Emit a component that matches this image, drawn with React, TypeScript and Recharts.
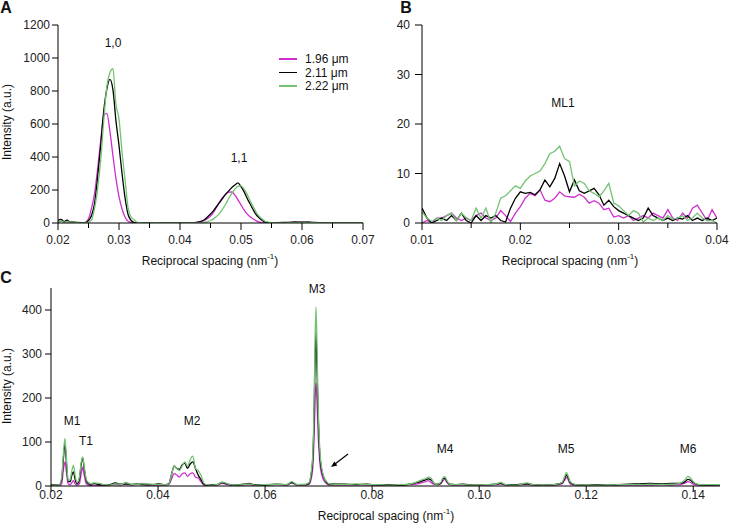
import { LineChart, Line, XAxis, YAxis } from 'recharts';

const FONT = 'Arial, "Liberation Sans", Helvetica, sans-serif';
const PINK = '#cf2fcf';
const BLACK = '#000000';
const GREEN = '#72c272';

// ---- Panel A: 1,0 and 1,1 reflections
const aX = [
  0.02, 0.0205, 0.021, 0.0215, 0.022, 0.0225, 0.023, 0.024, 0.0245, 0.025,
  0.0255, 0.026, 0.0265, 0.027, 0.0275, 0.028, 0.0285, 0.029, 0.0295, 0.03,
  0.0305, 0.031, 0.0315, 0.032, 0.0325, 0.033, 0.034, 0.036, 0.038, 0.04,
  0.042, 0.043, 0.044, 0.045, 0.0455, 0.046, 0.0465, 0.047, 0.0475, 0.048,
  0.0485, 0.049, 0.0495, 0.05, 0.0505, 0.051, 0.0515, 0.052, 0.0525, 0.053,
  0.0535, 0.054, 0.055, 0.056, 0.058, 0.059, 0.06, 0.061, 0.062, 0.064,
  0.067, 0.07,
];
const aPink = [
  4, 10, 5, 8, 3, 2, 2, 0, 4, 25,
  90, 180, 330, 500, 650, 665, 560, 410, 270, 160,
  85, 35, 10, 3, 0, 0, 2, 0, 2, 0,
  2, 5, 15, 42, 65, 97, 128, 155, 175, 187,
  188, 170, 140, 110, 80, 55, 38, 24, 13, 6,
  2, 0, 0, 0, 3, 5, 6, 4, 2, 0,
  0, 0,
];
const aBlack = [
  15, 22, 8, 18, 5, 8, 3, 2, 2, 15,
  45, 120, 280, 470, 680, 810, 870, 810, 620, 470,
  300, 150, 50, 15, 3, 0, 1, 2, 0, 2,
  0, 5, 20, 55, 75, 100, 125, 150, 175, 195,
  215, 230, 243, 220, 190, 150, 115, 80, 50, 30,
  15, 5, 0, 2, 4, 6, 5, 6, 3, 1,
  0, 0,
];
const aGreen = [
  8, 12, 5, 10, 4, 6, 2, 0, 0, 5,
  20, 90, 210, 380, 620, 826, 910, 935, 720, 630,
  430, 260, 90, 35, 20, 3, 0, 2, 0, 1,
  0, 1, 3, 15, 25, 40, 60, 85, 115, 150,
  180, 205, 222, 225, 205, 175, 135, 100, 65, 40,
  22, 10, 2, 0, 2, 3, 4, 3, 2, 0,
  0, 0,
];
const aXTicks = [0.02, 0.025, 0.03, 0.035, 0.04, 0.045, 0.05, 0.055, 0.06, 0.065, 0.07];
const aXLabels = [0.02, 0.03, 0.04, 0.05, 0.06, 0.07];
const aYTicks = [0, 200, 400, 600, 800, 1000, 1200];

// ---- Panel B: ML1
const bX = [
  0.01, 0.0105, 0.011, 0.0115, 0.012, 0.0125, 0.013, 0.0135, 0.014, 0.0145,
  0.015, 0.0155, 0.016, 0.0165, 0.017, 0.0175, 0.018, 0.0185, 0.019, 0.0195,
  0.02, 0.0205, 0.021, 0.0215, 0.022, 0.0225, 0.023, 0.0235, 0.024, 0.0245,
  0.025, 0.0255, 0.026, 0.0265, 0.027, 0.0275, 0.028, 0.0285, 0.029, 0.0295,
  0.03, 0.0305, 0.031, 0.0315, 0.032, 0.0325, 0.033, 0.0335, 0.034, 0.0345,
  0.035, 0.0355, 0.036, 0.0365, 0.037, 0.0375, 0.038, 0.0385, 0.039, 0.0395,
  0.04,
];
const bPink = [
  0, 0.5, 0, 1, 1, 1.5, 2, 1, 0.5, 1,
  0.5, 1.5, 2, 1, 0.5, 1, 2.5, 1.5, 0.3, 2,
  3.3, 5, 6, 5.5, 6.7, 4.6, 4.3, 5, 6.3, 5.5,
  5.3, 5.2, 5.8, 5.2, 4, 4.5, 4, 2.7, 3, 1.2,
  1.5, 1, 1.5, 0.5, 1, 1.5, 1, 2, 1.5, 1,
  2.7, 1, 0.5, 2, 1, 3, 3.6, 2, 0.5, 2.7,
  1,
];
const bBlack = [
  3, 1, 0, 0.5, 1, 0.5, 1.5, 0.5, 2, 0.5,
  0, 1.5, 0.5, 1.5, 1, 1.5, 0.5, 0.2, 3, 5,
  6.3, 6, 6.2, 5.7, 6.7, 8.7, 7.3, 9, 12, 9.5,
  6.3, 8.7, 6.5, 6, 6.5, 7, 5.7, 3.6, 4.6, 3.3,
  2.5, 2, 1.5, 1, 0.5, 1, 3, 1.5, 1, 0.5,
  1, 0.5, 1, 0.8, 1.5, 0.5, 1, 0.5, 1, 0.5,
  1,
];
const bGreen = [
  2.3, 1, 0.3, 1, 0.5, 1.5, 2, 0.5, 2, 1,
  0.5, 3, 1, 3, 0, 2, 5, 5.5, 6.5, 7.5,
  7, 8.5, 9.5, 10, 10.5, 12, 14, 14.5, 15.5, 13,
  12.4, 7.5, 8.5, 8, 6.5, 6, 5.3, 6.5, 8, 4,
  3.5, 2.5, 1.5, 2.5, 2, 0.2, 1, 0.5, 1, 0.5,
  1.5, 0.8, 1, 1.5, 0.5, 1, 2, 1, 0.5, 0.5,
  0,
];
const bXTicks = [0.01, 0.015, 0.02, 0.025, 0.03, 0.035, 0.04];
const bXLabels = [0.01, 0.02, 0.03, 0.04];
const bYTicks = [0, 10, 20, 30, 40];

// ---- Panel C: meridional reflections
const cX = [
  0.02, 0.0215, 0.022, 0.0223, 0.0226, 0.0229, 0.0232, 0.0236, 0.0239, 0.0242,
  0.0245, 0.0249, 0.0253, 0.0256, 0.0259, 0.0262, 0.0266, 0.027, 0.0275, 0.028,
  0.029, 0.03, 0.031, 0.032, 0.033, 0.034, 0.035, 0.036, 0.037, 0.038,
  0.039, 0.04, 0.041, 0.042, 0.0425, 0.043, 0.0435, 0.044, 0.0445, 0.045,
  0.0455, 0.046, 0.0465, 0.047, 0.0475, 0.048, 0.0485, 0.049, 0.05, 0.051,
  0.052, 0.053, 0.054, 0.056, 0.057, 0.058, 0.06, 0.062, 0.064, 0.065,
  0.066, 0.0675, 0.0682, 0.0686, 0.0689, 0.0691, 0.0693, 0.0695, 0.0697, 0.0699,
  0.0701, 0.0703, 0.0706, 0.071, 0.0715, 0.072, 0.073, 0.075, 0.077, 0.079,
  0.081, 0.083, 0.085, 0.087, 0.0885, 0.0895, 0.09, 0.0905, 0.091, 0.0915,
  0.092, 0.0928, 0.0933, 0.0936, 0.094, 0.0945, 0.0955, 0.097, 0.099, 0.101,
  0.103, 0.104, 0.105, 0.107, 0.109, 0.11, 0.112, 0.114, 0.1155, 0.116,
  0.1163, 0.1166, 0.117, 0.118, 0.12, 0.122, 0.124, 0.126, 0.128, 0.13,
  0.132, 0.134, 0.136, 0.1375, 0.1385, 0.139, 0.1395, 0.14, 0.141, 0.1425,
  0.145,
];
const cPink = [
  2, 1, 5, 35, 55, 30, 5, 3, 8, 12,
  5, 2, 5, 25, 42, 25, 5, 2, 1, 2,
  1, 1, 2, 3, 2, 4, 2, 3, 6, 4,
  2, 1, 2, 3, 15, 28, 25, 20, 28, 30,
  22, 28, 30, 20, 18, 10, 3, 1, 1, 2,
  6, 3, 1, 2, 3, 1, 2, 3, 2, 7,
  2, 2, 4, 15, 40, 90, 170, 235, 190, 120,
  75, 45, 25, 12, 5, 2, 2, 2, 3, 2,
  2, 1, 2, 3, 5, 8, 10, 12, 8, 4,
  3, 5, 13, 15, 8, 3, 2, 2, 1, 2,
  3, 5, 2, 2, 4, 2, 1, 2, 5, 14,
  20, 15, 5, 2, 1, 2, 1, 2, 2, 2,
  2, 3, 2, 3, 7, 10, 8, 4, 2, 1,
  2,
];
const cBlack = [
  3, 2, 15, 60, 95, 50, 10, 10, 25, 32,
  15, 5, 15, 45, 65, 40, 12, 5, 3, 6,
  3, 2, 3, 7, 4, 5, 3, 5, 3, 2,
  3, 5, 3, 5, 25, 45, 40, 38, 48, 52,
  40, 50, 55, 40, 25, 15, 5, 2, 3, 3,
  8, 4, 2, 4, 6, 3, 2, 4, 3, 8,
  3, 3, 6, 25, 60, 130, 260, 350, 270, 170,
  100, 60, 35, 18, 8, 4, 5, 4, 3, 4,
  2, 3, 2, 4, 8, 12, 14, 16, 14, 7,
  4, 6, 17, 18, 10, 4, 3, 4, 2, 3,
  4, 6, 3, 3, 5, 3, 2, 3, 7, 18,
  25, 20, 8, 3, 2, 3, 2, 3, 4, 5,
  6, 5, 6, 6, 10, 15, 13, 8, 3, 2,
  3,
];
const cGreen = [
  2, 2, 20, 70, 108, 60, 12, 15, 35, 47,
  25, 8, 20, 50, 66, 45, 15, 8, 5, 7,
  6, 3, 2, 5, 3, 8, 4, 4, 5, 5,
  4, 3, 3, 5, 25, 45, 40, 35, 45, 55,
  45, 60, 68, 40, 35, 25, 8, 3, 2, 3,
  9, 5, 2, 3, 5, 2, 3, 4, 3, 10,
  3, 4, 8, 30, 70, 150, 300, 407, 320, 190,
  115, 70, 40, 20, 10, 5, 4, 3, 5, 3,
  3, 2, 3, 4, 10, 15, 17, 20, 18, 8,
  4, 8, 20, 21, 12, 4, 3, 3, 2, 3,
  4, 8, 3, 2, 7, 3, 2, 3, 8, 22,
  31, 24, 10, 3, 2, 2, 2, 3, 3, 3,
  4, 3, 4, 6, 15, 22, 18, 10, 3, 3,
  3,
];
const cXTicks = [0.02, 0.04, 0.06, 0.08, 0.1, 0.12, 0.14];
const cYTicks = [0, 100, 200, 300, 400];

const legendItems = [
  { name: '1.96 μm', color: PINK },
  { name: '2.11 μm', color: BLACK },
  { name: '2.22 μm', color: GREEN },
];

const toRows = (xs: number[], p: number[], k: number[], g: number[]) =>
  xs.map((x, i) => ({ x, pink: p[i], black: k[i], green: g[i] }));

const near = (a: number, b: number) => Math.abs(a - b) < 1e-9;

const XTick = (props: any) => {
  const { x, y, payload, labels, major, minor, gap } = props;
  const v = payload.value;
  const isMajor = labels.some((m: number) => near(m, v));
  return (
    <g>
      <line x1={x} x2={x} y1={y} y2={y + (isMajor ? major : minor)} stroke="#000" />
      {isMajor && (
        <text x={x} y={y + gap} textAnchor="middle" fontSize={12} fill="#222" fontFamily={FONT}>
          {v.toFixed(2)}
        </text>
      )}
    </g>
  );
};

const Text = ({ x, y, children, size = 12, bold = false, rotate = false }: any) => (
  <div
    style={{
      position: 'absolute',
      left: x,
      top: y,
      transform: `translate(-50%, -50%)${rotate ? ' rotate(-90deg)' : ''}`,
      fontSize: size,
      fontWeight: bold ? 'bold' : 'normal',
      lineHeight: 1,
      whiteSpace: 'nowrap',
      color: '#111',
    }}
  >
    {children}
  </div>
);

const XTitle = ({ x, y }: { x: number; y: number }) => (
  <Text x={x} y={y}>
    Reciprocal spacing (nm<span style={{ fontSize: 8, position: 'relative', top: -6 }}>-1</span>)
  </Text>
);

const series = (curve: 'monotone' | 'linear') =>
  [
    { key: 'pink', color: PINK },
    { key: 'black', color: BLACK },
    { key: 'green', color: GREEN },
  ].map((s) => (
    <Line
      key={s.key}
      dataKey={s.key}
      type={curve}
      stroke={s.color}
      strokeWidth={1.3}
      dot={false}
      activeDot={false}
      isAnimationActive={false}
    />
  ));

const yTickStyle = { fontSize: 12, fill: '#222', fontFamily: FONT };

export default function App() {
  const aData = toRows(aX, aPink, aBlack, aGreen);
  const bData = toRows(bX, bPink, bBlack, bGreen);
  const cData = toRows(cX, cPink, cBlack, cGreen);

  return (
    <div
      style={{
        position: 'absolute',
        left: 0,
        top: 0,
        width: 729,
        height: 531,
        background: '#fff',
        fontFamily: FONT,
      }}
    >
      {/* panel C first so the upper panels sit above it */}
      <div style={{ position: 'absolute', left: 0, top: 270 }}>
        <LineChart width={729} height={261} data={cData} margin={{ top: 18, right: 9, bottom: 15, left: 0 }}>
          <XAxis
            dataKey="x"
            type="number"
            domain={[0.02, 0.145]}
            ticks={cXTicks}
            interval={0}
            allowDataOverflow
            height={30}
            stroke="#000"
            tickLine={false}
            tickSize={0}
            tickMargin={0}
            tick={(p: any) => <XTick {...p} labels={cXTicks} major={6} minor={4} gap={13} />}
          />
          <YAxis
            type="number"
            domain={[0, 450]}
            ticks={cYTicks}
            interval={0}
            allowDataOverflow
            width={51}
            stroke="#000"
            tickSize={6}
            tickMargin={3}
            tick={yTickStyle}
          />
          {series('monotone')}
        </LineChart>
      </div>

      {/* panel B */}
      <div style={{ position: 'absolute', left: 365, top: 0 }}>
        <LineChart width={364} height={270} data={bData} margin={{ top: 25, right: 12, bottom: 17, left: 0 }}>
          <XAxis
            dataKey="x"
            type="number"
            domain={[0.01, 0.04]}
            ticks={bXTicks}
            interval={0}
            allowDataOverflow
            height={30}
            stroke="#000"
            tickLine={false}
            tickSize={0}
            tickMargin={0}
            tick={(p: any) => <XTick {...p} labels={bXLabels} major={7} minor={5} gap={21} />}
          />
          <YAxis
            type="number"
            domain={[0, 40]}
            ticks={bYTicks}
            interval={0}
            allowDataOverflow
            width={57}
            stroke="#000"
            tickSize={7}
            tickMargin={5}
            tick={yTickStyle}
          />
          {series('linear')}
        </LineChart>
      </div>

      {/* panel A, wider svg so the 0.07 label is not clipped */}
      <div style={{ position: 'absolute', left: 0, top: 0 }}>
        <LineChart width={385} height={270} data={aData} margin={{ top: 25, right: 22, bottom: 17, left: 0 }}>
          <XAxis
            dataKey="x"
            type="number"
            domain={[0.02, 0.07]}
            ticks={aXTicks}
            interval={0}
            allowDataOverflow
            height={30}
            stroke="#000"
            tickLine={false}
            tickSize={0}
            tickMargin={0}
            tick={(p: any) => <XTick {...p} labels={aXLabels} major={7} minor={5} gap={21} />}
          />
          <YAxis
            type="number"
            domain={[0, 1200]}
            ticks={aYTicks}
            interval={0}
            allowDataOverflow
            width={58}
            stroke="#000"
            tickSize={6}
            tickMargin={2}
            tick={yTickStyle}
          />
          {series('monotone')}
        </LineChart>
      </div>

      {/* panel letters */}
      <Text x={6} y={8} size={16} bold>A</Text>
      <Text x={406} y={8} size={16} bold>B</Text>
      <Text x={6} y={278} size={16} bold>C</Text>

      {/* axis titles */}
      <Text x={7} y={122} rotate>Intensity (a.u.)</Text>
      <Text x={7} y={386} rotate>Intensity (a.u.)</Text>
      <XTitle x={210} y={261} />
      <XTitle x={570} y={261} />
      <XTitle x={386} y={516} />

      {/* peak labels */}
      <Text x={113} y={43}>1,0</Text>
      <Text x={239} y={158}>1,1</Text>
      <Text x={563} y={103}>ML1</Text>
      <Text x={72} y={421}>M1</Text>
      <Text x={86} y={441}>T1</Text>
      <Text x={192} y={421}>M2</Text>
      <Text x={317} y={289}>M3</Text>
      <Text x={445} y={449}>M4</Text>
      <Text x={566} y={449}>M5</Text>
      <Text x={688} y={449}>M6</Text>

      {/* legend */}
      {legendItems.map((it, i) => (
        <div key={it.name} style={{ position: 'absolute', left: 279, top: 59 + i * 13.5 - 6, height: 12, display: 'flex', alignItems: 'center' }}>
          <div style={{ width: 18, height: 1.3, background: it.color }} />
          <span style={{ marginLeft: 8, fontSize: 12, lineHeight: 1, color: '#111' }}>{it.name}</span>
        </div>
      ))}

      {/* arrow in C */}
      <svg width={729} height={531} style={{ position: 'absolute', left: 0, top: 0, pointerEvents: 'none' }}>
        <line x1={348} y1={454} x2={335} y2={464} stroke="#000" strokeWidth={1.2} />
        <polygon points="331,467 337.3,465.4 334.3,461.4" fill="#000" />
      </svg>
    </div>
  );
}
